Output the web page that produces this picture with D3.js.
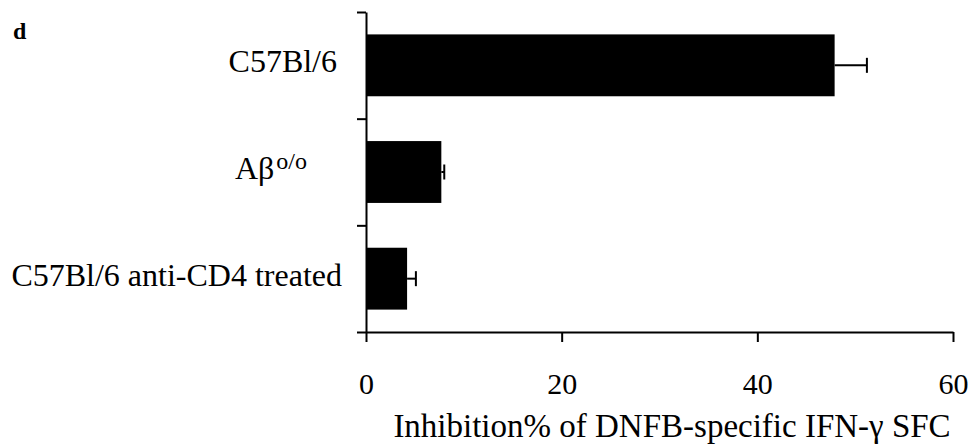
<!DOCTYPE html>
<html lang="en">
<head>
<meta charset="UTF-8">
<script src="https://d3js.org/d3.v7.min.js"></script>
<title>Inhibition chart</title>
<style>
  body { margin: 0; background: white; }
  svg text { font-family: "Liberation Serif", "Times New Roman", Times, serif !important; fill: black; }
</style>
</head>
<body>
<div id="svg_area"></div>
<script>
// data
const groups = ["C57Bl/6", "Abeta", "C57Bl/6 anti-CD4 treated"];
const values = [47.9, 7.7, 4.2];
const errors = [3.3, 0.3, 0.9];
const xTicks = [0, 20, 40, 60];

// where each category label ends (labels in the figure are not aligned)
const labelEnds = [337, 307, 342];

const W = 969, H = 446;
const plotL = 366, plotR = 953, plotT = 12, plotB = 332;

var svg = d3.select("#svg_area").append("svg")
    .attr("width", W).attr("height", H);

var x = d3.scaleLinear().domain([0, 60]).range([plotL, plotR]);
var y = d3.scaleBand().domain(groups).range([plotT, plotB])
    .paddingInner(0.42).paddingOuter(0.21);
var yEdge = d3.scaleLinear().domain([0, groups.length]).range([plotT, plotB]);

// bars
svg.append("g").selectAll("rect")
    .data(groups)
    .enter().append("rect")
    .attr("x", x(0))
    .attr("y", d => y(d))
    .attr("width", (d, i) => x(values[i]) - x(0))
    .attr("height", y.bandwidth())
    .attr("fill", "black");

// error bars (one sided)
var eb = svg.append("g").attr("stroke", "black").attr("stroke-width", 2);
groups.forEach(function(g, i) {
    var cy = y(g) + y.bandwidth() / 2;
    eb.append("line")
        .attr("x1", x(values[i])).attr("x2", x(values[i] + errors[i]))
        .attr("y1", cy).attr("y2", cy);
    eb.append("line")
        .attr("x1", x(values[i] + errors[i])).attr("x2", x(values[i] + errors[i]))
        .attr("y1", cy - 7.5).attr("y2", cy + 7.5);
});

// y axis with ticks between categories
var yAxis = svg.append("g").attr("transform", "translate(" + plotL + ",0)")
    .call(d3.axisLeft(yEdge).tickValues(d3.range(groups.length + 1))
        .tickFormat("").tickSize(9).tickSizeOuter(0));

// x axis
var xAxis = svg.append("g").attr("transform", "translate(0," + plotB + ")")
    .call(d3.axisBottom(x).tickValues(xTicks).tickSize(10).tickSizeOuter(0).tickPadding(31));

svg.selectAll(".domain, .tick line").attr("stroke", "black").attr("stroke-width", 2);
xAxis.attr("font-family", null);
yAxis.attr("font-family", null);
xAxis.selectAll(".tick text").style("font-size", "30px");

// category labels
groups.forEach(function(g, i) {
    var t = svg.append("text")
        .attr("x", labelEnds[i])
        .attr("y", y(g) + y.bandwidth() / 2 + 7)
        .attr("text-anchor", "end")
        .style("font-size", "32px");
    if (g === "Abeta") {
        t.append("tspan").text("A\u03B2");
        t.append("tspan").attr("dx", 2).attr("dy", -10).style("font-size", "24px").text("o/o");
    } else {
        t.text(g);
    }
});

// axis title
svg.append("text")
    .attr("x", 672)
    .attr("y", 437)
    .attr("text-anchor", "middle")
    .style("font-size", "33px")
    .text("Inhibition% of DNFB-specific IFN-\u03B3 SFC");

// panel letter
svg.append("text")
    .attr("x", 13).attr("y", 39)
    .style("font-size", "24px").style("font-weight", "bold")
    .text("d");
</script>
</body>
</html>
